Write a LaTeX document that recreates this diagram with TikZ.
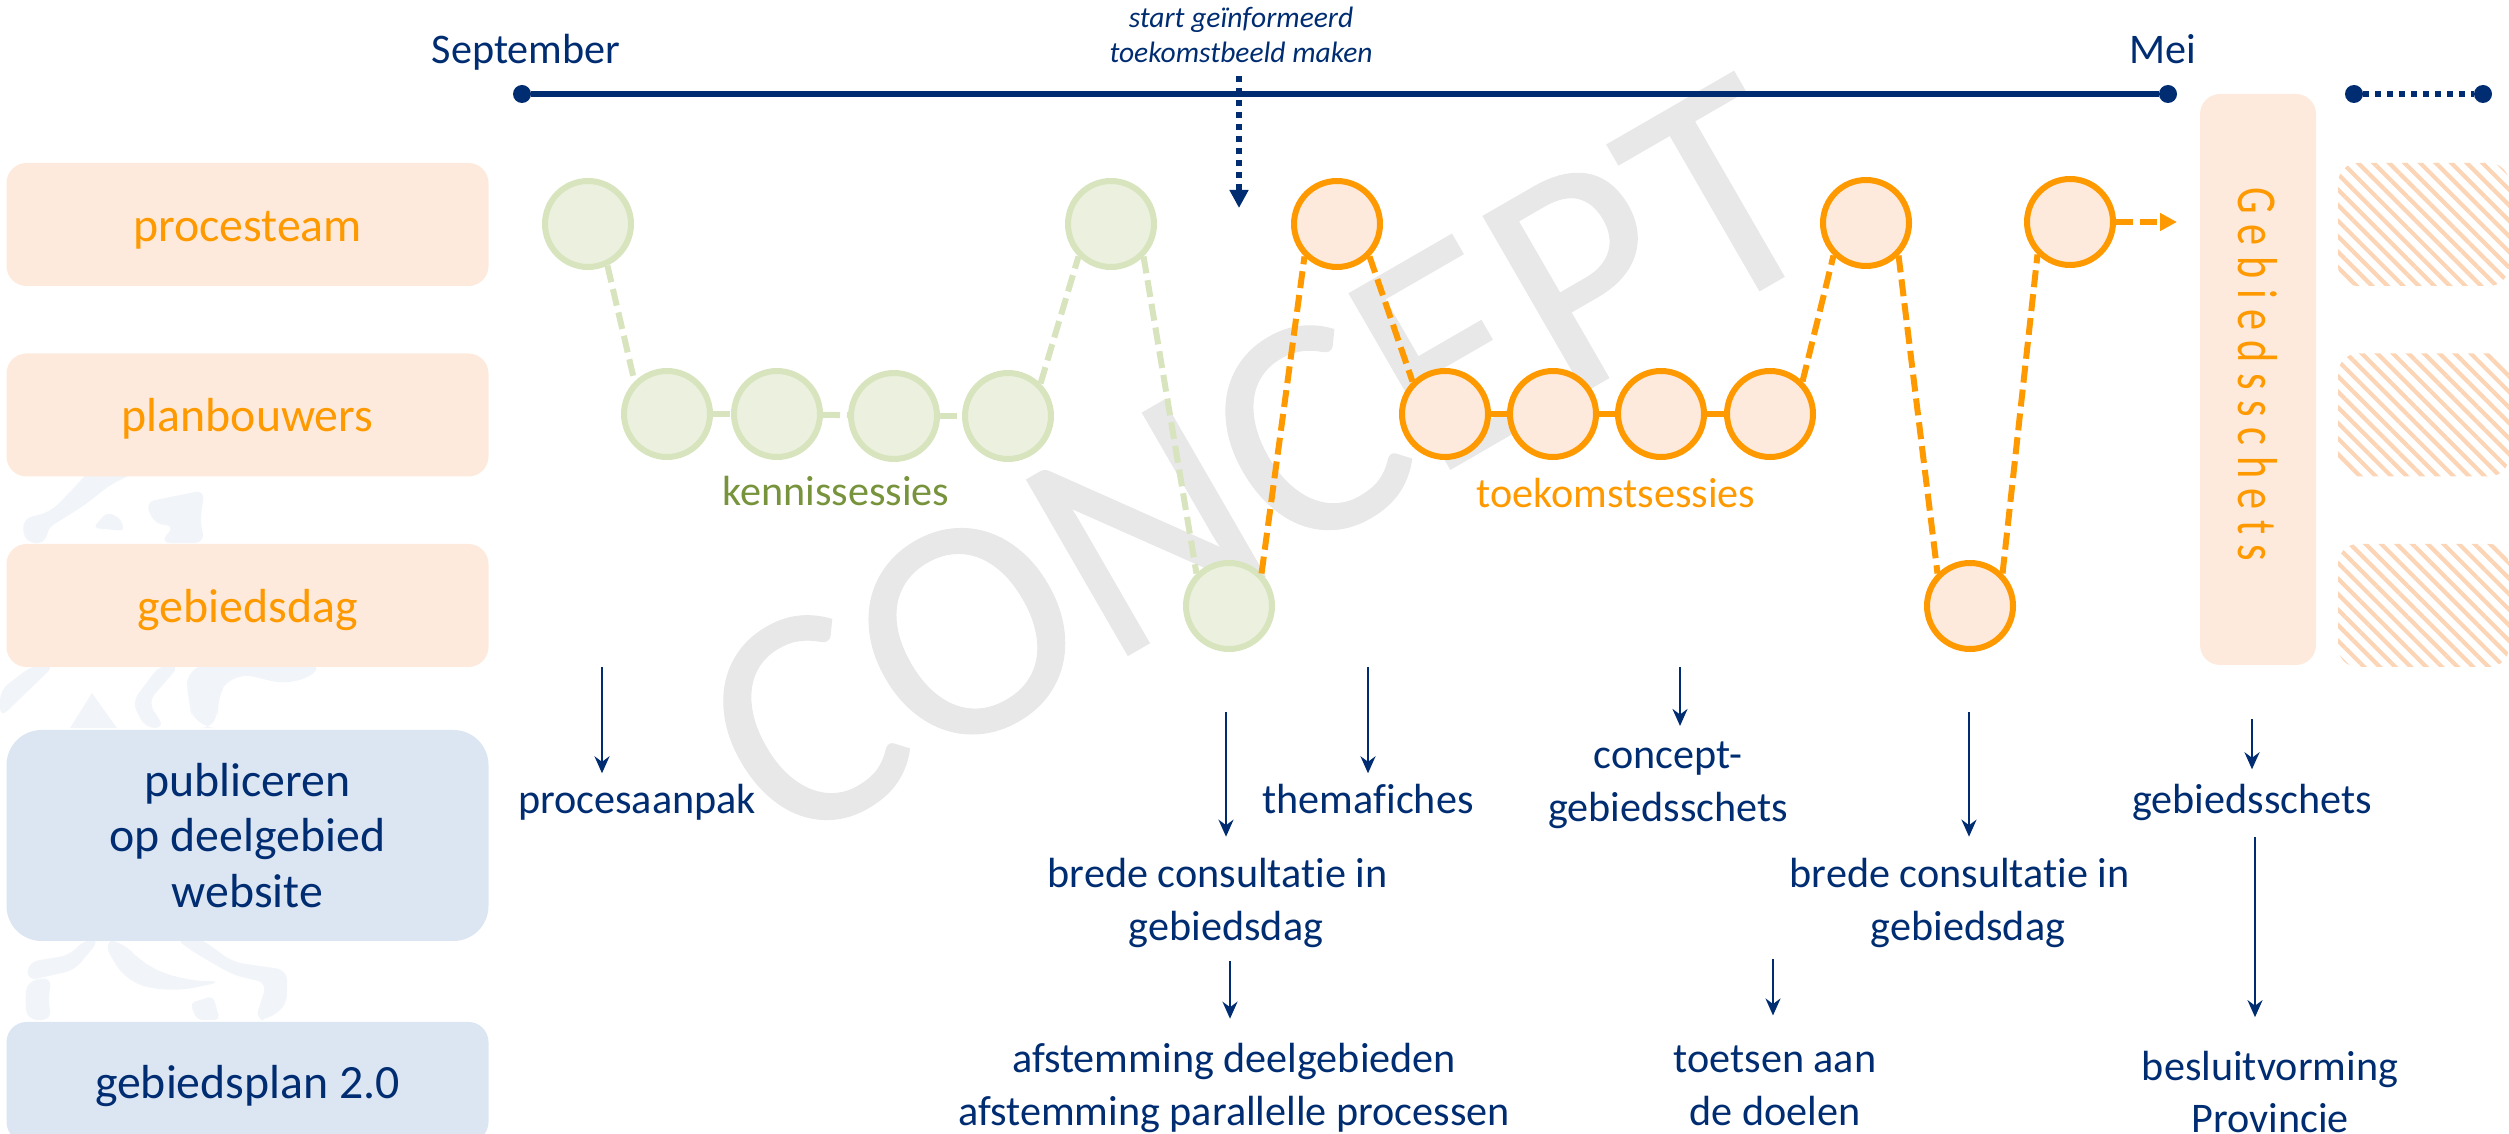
\documentclass[tikz,border=0pt]{standalone}
\usepackage{fontspec}
\usepackage{graphicx}
\setmainfont[Ligatures=NoCommon]{Carlito}
\usetikzlibrary{arrows.meta}
\usetikzlibrary{positioning}
\usetikzlibrary{patterns.meta}
\definecolor{navy}{HTML}{002D72}
\definecolor{oranje}{HTML}{FF9900}
\definecolor{perzik}{HTML}{FDEADC}
\definecolor{lichtblauw}{HTML}{DCE6F2}
\definecolor{groenlijn}{HTML}{D7E4BD}
\definecolor{groenvlak}{HTML}{EBF1DE}
\definecolor{olijf}{HTML}{77933C}
\definecolor{arcering}{HTML}{FBD5B5}
\definecolor{leeuw}{HTML}{F1F4F8}
\definecolor{watermerk}{HTML}{E8E8E8}
\begin{document}
\begin{tikzpicture}[
      x=0.1mm, y=-0.1mm,
      font=\fontsize{12}{15}\selectfont,
      vak/.style ={rectangle, rounded corners=2mm, outer sep=0pt, minimum width=48.2mm, minimum height=12.3mm, inner sep=0pt, text height=3.4mm, text depth=0pt, font=\fontsize{13.6}{15}\selectfont},
      oranjevak/.style ={vak, fill=perzik, text=oranje},
      blauwvak/.style ={vak, fill=lichtblauw, text=navy},
      arcvak/.style ={rectangle, rounded corners=2mm, outer sep=0pt, minimum width=17.1mm, minimum height=12.3mm, pattern={Lines[angle=-45,distance=1.1mm,line width=.42mm]}, pattern color=arcering},
      sessie/.style ={circle, line width=.6mm, minimum size=8.6mm, inner sep=0pt},
      groen/.style ={sessie, draw=groenlijn, fill=groenvlak},
      oranjeb/.style ={sessie, draw=oranje, fill=perzik},
      groenlink/.style ={draw=groenlijn, line width=.6mm, dash pattern=on 1.7mm off .7mm},
      oranjelink/.style ={draw=oranje, line width=.6mm, dash pattern=on 1.7mm off .7mm},
      stip/.style ={circle, fill=navy, minimum size=1.8mm, inner sep=0pt, outer sep=0pt},
      label/.style ={inner xsep=0pt, inner ysep=.5mm, text height=3.4mm, text depth=0pt},
      tekst/.style ={label, text=navy},
      blok/.style ={inner xsep=0pt, align=center, text=navy},
      pijl/.style ={draw=navy, line width=.25mm, -{Stealth[length=1.7mm,width=1.5mm]}},
      node distance=6.75mm
    ]
    \useasboundingbox (0,0) rectangle (2509,1134) ;

    \fill [leeuw, rounded corners=1mm] (25,543) -- (22,519) -- (50,512) -- (72,490) -- (90,470) -- (140,470) -- (110,485) -- (85,505) -- (45,530) -- (48,543) -- cycle ;
    \fill [leeuw, rounded corners=.5mm] (93,528) -- (125,531) -- (120,518) -- (107,512) -- cycle ;
    \fill [leeuw, rounded corners=1mm] (145,502) -- (205,490) -- (200,520) -- (205,543) -- (160,543) -- (175,525) -- (155,525) -- cycle ;
    \fill [leeuw, rounded corners=1mm] (0,690) -- (33,665) -- (55,665) -- (0,718) -- cycle ;
    \fill [leeuw] (92,693) -- (70,728) -- (117,728) -- cycle ;
    \fill [leeuw, rounded corners=1mm] (160,665) -- (132,702) -- (145,728) -- (165,728) -- (148,702) -- (180,665) -- cycle ;
    \fill [leeuw, rounded corners=2mm] (187,665) -- (187,700) -- (196,728) -- (220,728) -- (215,700) -- (233,672) -- (293,686) -- (327,665) -- cycle ;
    \fill [leeuw, rounded corners=1mm] (85,939) -- (70,955) -- (28,962) -- (27,981) -- (75,970) -- (100,939) -- cycle ;
    \fill [leeuw, rounded corners=1mm] (27,981) -- (52,977) -- (48,1000) -- (52,1020) -- (27,1020) -- (25,1000) -- cycle ;
    \fill [leeuw, rounded corners=2mm] (100,938) -- (127,983) -- (173,992) -- (227,981) -- (187,981) -- (143,965) -- (120,938) -- cycle ;
    \fill [leeuw, rounded corners=1mm] (200,938) -- (233,962) -- (287,970) -- (287,1005) -- (267,1020) -- (255,1020) -- (267,983) -- (233,975) -- (190,950) -- (175,938) -- cycle ;
    \fill [leeuw, rounded corners=.5mm] (190,1003) -- (213,996) -- (220,1020) -- (197,1020) -- cycle ;

    \node [rotate=30, text=watermerk, font=\fontsize{90}{90}\selectfont\addfontfeature{FakeBold=.3}] (concept) at (1260,462) {CONCEPT} ;

    \node [oranjevak] (procesteam) at (247.5,224.5) {procesteam} ;
    \node [oranjevak] (planbouwers) [below=of procesteam] {planbouwers} ;
    \node [oranjevak] (gebiedsdag) [below=of planbouwers] {gebiedsdag} ;
    \node [blauwvak, rounded corners=3.5mm, minimum height=21.1mm, text height=, text depth=, align=center, font=\fontsize{13.6}{15.9}\selectfont] (publiceren) [below=6.3mm of gebiedsdag] {publiceren\\op deelgebied\\website} ;
    \node [blauwvak, minimum height=12mm] (gebiedsplan) [below=8.1mm of publiceren] {gebiedsplan 2.0} ;

    \node [tekst] (september) at (526,47) {September} ;
    \node [tekst] (mei) at (2163,47) {Mei} ;
    \node [stip] (begin) at (522,94) {} ;
    \node [stip] (eind) at (2168,94) {} ;
    \node [stip] (verder) at (2354,94) {} ;
    \node [stip] (verder2) at (2483,94) {} ;
    \draw [navy, line width=.6mm] (begin) -- (eind) ;
    \draw [navy, line width=.6mm, dash pattern=on .6mm off .6mm] (verder) -- (verder2) ;

    \node [blok, font=\fontsize{8.4}{9.9}\selectfont\itshape] (start) at (1241,35) {start geïnformeerd\\toekomstbeeld maken} ;
    \coordinate (startboven) at (1239,76) ;
    \coordinate (startonder) at (1239,208) ;
    \draw [navy, line width=.6mm, dash pattern=on .6mm off .6mm, -{Triangle[length=1.8mm,width=1.8mm]}] (startboven) -- (startonder) ;

    \node [groen] (sessieA) at (588,224) {} ;
    \node [groen] (sessieB) at (667,414) {} ;
    \node [groen] (sessieC) [right=1.8mm of sessieB] {} ;
    \node [groen] (sessieD) [right=2.5mm of sessieC, yshift=-.2mm] {} ;
    \node [groen] (sessieE) [right=2.2mm of sessieD] {} ;
    \node [groen] (sessieF) at (1111,224) {} ;
    \node [groen] (sessieG) at (1229,606) {} ;
    \node [oranjeb] (toekomstA) at (1337,224) {} ;
    \node [oranjeb] (toekomstB) at (1445,414) {} ;
    \node [oranjeb] (toekomstC) [right=1.6mm of toekomstB] {} ;
    \node [oranjeb] (toekomstD) [right=1.6mm of toekomstC] {} ;
    \node [oranjeb] (toekomstE) [right=1.7mm of toekomstD] {} ;
    \node [oranjeb] (toekomstF) at (1866,223) {} ;
    \node [oranjeb] (toekomstG) at (1970,606) {} ;
    \node [oranjeb] (toekomstH) at (2070,222) {} ;
    \coordinate (schetsin) at (2177,222) ;

    \draw [groenlink] (sessieA.-65) -- (sessieB.north west) ;
    \draw [groenlink] (sessieB) -- (sessieC) ;
    \draw [groenlink] (sessieC) -- (sessieD) ;
    \draw [groenlink] (sessieD) -- (sessieE) ;
    \draw [groenlink] (sessieE.north east) -- (sessieF.south west) ;
    \draw [groenlink] (sessieF.south east) -- (sessieG.north west) ;
    \draw [oranjelink] (sessieG.north east) -- (toekomstA.south west) ;
    \draw [oranjelink] (toekomstA.south east) -- (toekomstB.north west) ;
    \draw [oranjelink] (toekomstB) -- (toekomstC) ;
    \draw [oranjelink] (toekomstC) -- (toekomstD) ;
    \draw [oranjelink] (toekomstD) -- (toekomstE) ;
    \draw [oranjelink] (toekomstE.north east) -- (toekomstF.south west) ;
    \draw [oranjelink] (toekomstF.south east) -- (toekomstG.north west) ;
    \draw [oranjelink] (toekomstG.north east) -- (toekomstH.south west) ;
    \draw [oranjelink, -{Triangle[length=1.7mm,width=1.7mm]}] (toekomstH) -- (schetsin) ;

    \node [label, text=olijf] (kennis) at (836,489) {kennissessies} ;
    \node [label, text=oranje] (toekomst) at (1616,491) {toekomstsessies} ;

    \node [rectangle, rotate=-90, rounded corners=2mm, fill=perzik, text=oranje, outer sep=0pt, minimum width=57.1mm, minimum height=11.6mm, font=\fontsize{16}{16}\selectfont] (schets) at (2258,379.5) {\scalebox{.75}[1]{\addfontfeature{LetterSpace=25}Gebiedsschets}\hspace*{1mm}} ;
    \node [arcvak] (vervolgA) at (2423.5,224.5) {} ;
    \node [arcvak] (vervolgB) [below=of vervolgA] {} ;
    \node [arcvak] (vervolgC) [below=of vervolgB] {} ;

    \node [tekst] (procesaanpak) at (637,796) {procesaanpak} ;
    \node [tekst] (themafiches) at (1368,796) {themafiches} ;
    \node [tekst, inner ysep=.9mm] (gebiedsschets) at (2252,796) {gebiedsschets} ;
    \node [blok, inner ysep=1.5mm] (conceptschets) at (1668,785) {concept-\\gebiedsschets} ;
    \node [blok, inner ysep=2.1mm] (consultatieA) at (1226,903) {brede consultatie in\hspace*{.4em}\\gebiedsdag} ;
    \node [blok, inner ysep=2.1mm] (consultatieB) at (1968,903) {brede consultatie in\hspace*{.4em}\\gebiedsdag} ;
    \node [blok, inner ysep=2.4mm] (afstemming) at (1234,1088) {afstemming deelgebieden\\afstemming parallelle processen} ;
    \node [blok, inner ysep=3mm] (toetsen) at (1775,1086) {toetsen aan\\de doelen} ;
    \node [blok, inner ysep=3.3mm] (besluit) at (2270,1092) {besluitvorming\\Provincie} ;

    \coordinate (pijlA) at (602,667) ;
    \coordinate (pijlB) at (1226,712) ;
    \coordinate (pijlC) at (1230,961) ;
    \coordinate (pijlD) at (1368,667) ;
    \coordinate (pijlE) at (1680,667) ;
    \coordinate (pijlF) at (1969,712) ;
    \coordinate (pijlG) at (1773,959) ;
    \coordinate (pijlH) at (2252,719) ;
    \coordinate (pijlI) at (2255,837) ;
    \draw [pijl] (pijlA) -- (pijlA |- procesaanpak.north) ;
    \draw [pijl] (pijlB) -- (pijlB |- consultatieA.north) ;
    \draw [pijl] (pijlC) -- (pijlC |- afstemming.north) ;
    \draw [pijl] (pijlD) -- (pijlD |- themafiches.north) ;
    \draw [pijl] (pijlE) -- (pijlE |- conceptschets.north) ;
    \draw [pijl] (pijlF) -- (pijlF |- consultatieB.north) ;
    \draw [pijl] (pijlG) -- (pijlG |- toetsen.north) ;
    \draw [pijl] (pijlH) -- (pijlH |- gebiedsschets.north) ;
    \draw [pijl] (pijlI) -- (pijlI |- besluit.north) ;
  \end{tikzpicture}
\end{document}
